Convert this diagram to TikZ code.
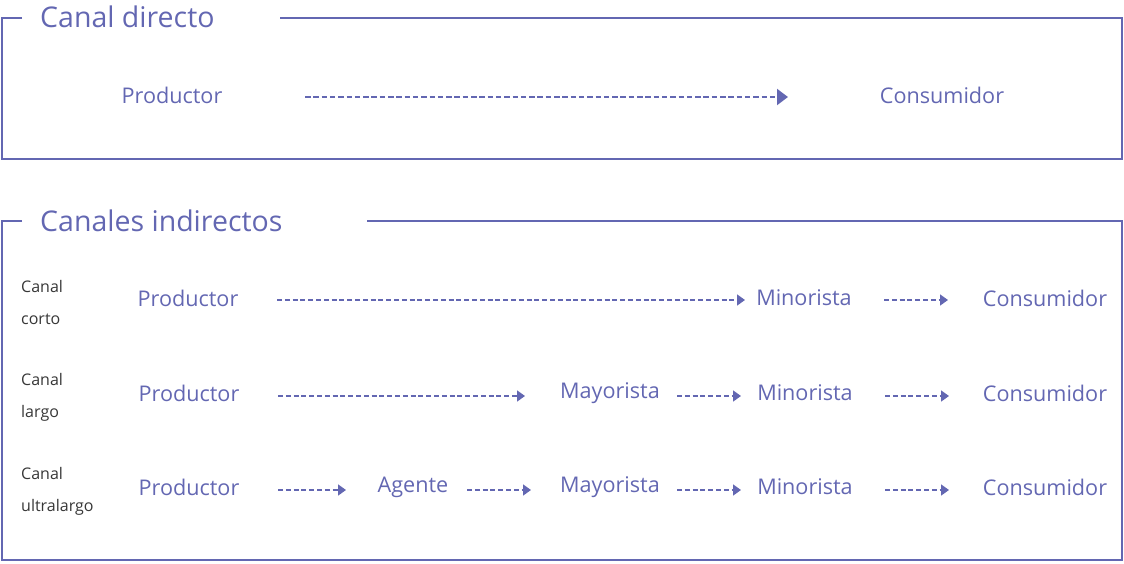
\documentclass[tikz,border=0pt]{standalone}
\usepackage{fontspec}
\setmainfont{Open Sans}
\usetikzlibrary{arrows.meta}
\definecolor{cblue}{RGB}{99,103,178}
\definecolor{cgray}{RGB}{55,55,55}
\tikzset{
  frame/.style={draw=cblue, line width=2.8pt},
  title/.style={anchor=west, text=cblue, inner sep=0pt, font=\fontsize{28.5}{32}\selectfont},
  item/.style={text=cblue, inner sep=0pt, font=\fontsize{21.6}{24}\selectfont},
  lbl/.style={anchor=west, text=cgray, inner sep=0pt, align=left, font=\fontsize{16}{32}\selectfont},
  flow/.style={draw=cblue, line width=1.6pt, dash pattern=on 5pt off 2.8pt, -{Triangle[length=8pt,width=11pt]}},
  bigflow/.style={draw=cblue, line width=2pt, dash pattern=on 5.5pt off 2.8pt, -{Triangle[length=11pt,width=16pt]}}
}
\begin{document}
\begin{tikzpicture}[x=1pt,y=-1pt]
\useasboundingbox (0,0) rectangle (1124,563);
% frames
\draw[frame] (22,18) -- (2,18) -- (2,159) -- (1122,159) -- (1122,18) -- (280,18);
\draw[frame] (22,221) -- (2,221) -- (2,560) -- (1122,560) -- (1122,221) -- (367,221);
\node[title] (t1) at (40,17) {Canal directo};
\node[title] (t2) at (40,221) {Canales indirectos};
% direct
\node[item] (dp) at (172,95) {Productor};
\node[item] (dc) at (942,95) {Consumidor};
\draw[bigflow, shorten <=133pt, shorten >=154pt, transform canvas={yshift=-2pt}] (dp.center) -- (dc.center);
% labels
\node[lbl] (l1) at (21,302) {Canal\\corto};
\node[lbl] (l2) at (21,397) {Canal\\largo};
\node[lbl] (l3) at (21,491) {Canal\\ultralargo};
% corto
\node[item] (cp) at (188,298) {Productor};
\node[item] (cm) at (804,298) {Minorista};
\node[item] (cc) at (1045,298) {Consumidor};
\draw[flow, shorten <=89pt, shorten >=59pt, transform canvas={yshift=-2pt}] (cp.center) -- (cm.center);
\draw[flow, shorten <=80pt, shorten >=97pt, transform canvas={yshift=-2pt}] (cm.center) -- (cc.center);
% largo
\node[item] (lp) at (189,393) {Productor};
\node[item] (ly) at (610,393) {Mayorista};
\node[item] (lm) at (805,393) {Minorista};
\node[item] (lc) at (1045,393) {Consumidor};
\draw[flow, shorten <=89pt, shorten >=85pt, transform canvas={yshift=-3pt}] (lp.center) -- (ly.center);
\draw[flow, shorten <=67pt, shorten >=64pt, transform canvas={yshift=-3pt}] (ly.center) -- (lm.center);
\draw[flow, shorten <=80pt, shorten >=96pt, transform canvas={yshift=-3pt}] (lm.center) -- (lc.center);
% ultralargo
\node[item] (up) at (189,487) {Productor};
\node[item] (ua) at (413,487) {Agente};
\node[item] (uy) at (610,487) {Mayorista};
\node[item] (um) at (805,487) {Minorista};
\node[item] (uc) at (1045,487) {Consumidor};
\draw[flow, shorten <=89pt, shorten >=67pt, transform canvas={yshift=-3pt}] (up.center) -- (ua.center);
\draw[flow, shorten <=54pt, shorten >=79pt, transform canvas={yshift=-3pt}] (ua.center) -- (uy.center);
\draw[flow, shorten <=67pt, shorten >=64pt, transform canvas={yshift=-3pt}] (uy.center) -- (um.center);
\draw[flow, shorten <=80pt, shorten >=96pt, transform canvas={yshift=-3pt}] (um.center) -- (uc.center);
\end{tikzpicture}
\end{document}
